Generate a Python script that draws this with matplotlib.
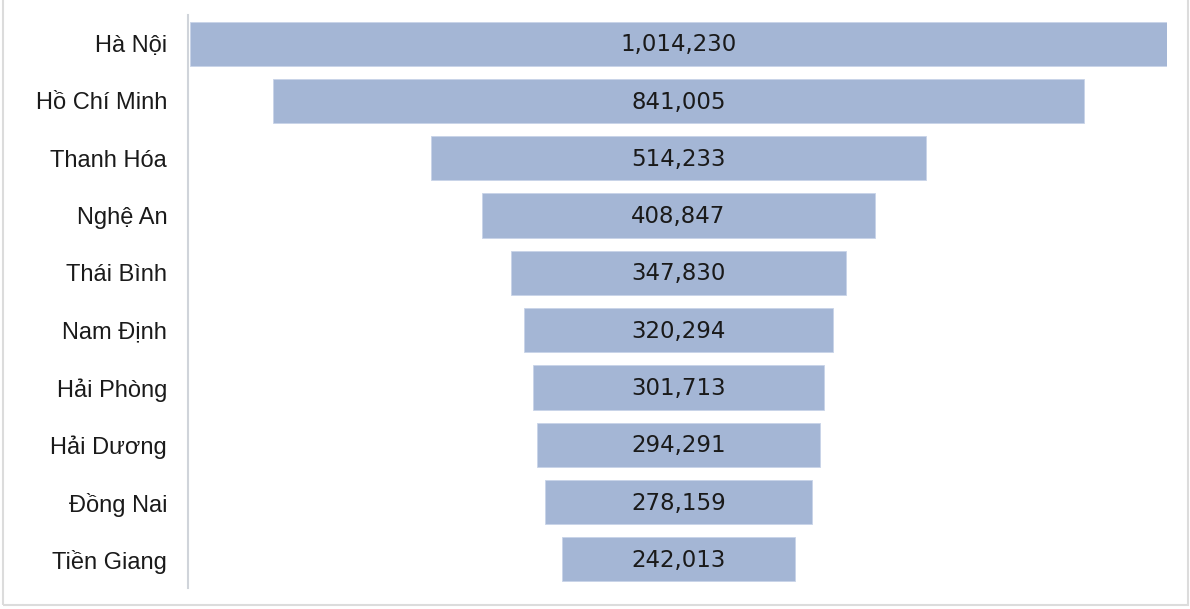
import matplotlib.pyplot as plt
from matplotlib.patches import Rectangle

provinces = ["Hà Nội", "Hồ Chí Minh", "Thanh Hóa", "Nghệ An", "Thái Bình",
             "Nam Định", "Hải Phòng", "Hải Dương", "Đồng Nai", "Tiền Giang"]
values = [1014230, 841005, 514233, 408847, 347830,
          320294, 301713, 294291, 278159, 242013]

bar_color = "#a4b6d5"

fig = plt.figure(figsize=(11.9, 6.09), dpi=100)
ax = fig.add_axes([188 / 1190, 1 - 588 / 609, (1167 - 188) / 1190, (588 - 15) / 609])

# funnel: each bar centred on zero
ypos = list(range(len(values)))
lefts = [-v / 2 for v in values]
ax.barh(ypos, values, left=lefts, height=0.77, color=bar_color,
        edgecolor="#c8d4e8", linewidth=0.6)

for y, v in zip(ypos, values):
    ax.text(0, y + 0.02, f"{v:,}", ha="center", va="center", fontsize=16.5,
            family=["DejaVu Sans"], color="#1a1a1a")

m = max(values)
pad = m * 2 / 977
ax.set_xlim(-m / 2 - pad, m / 2)
ax.set_ylim(len(values) - 0.5, -0.5)

ax.set_yticks(ypos)
ax.set_yticklabels(provinces, family=["Liberation Sans", "DejaVu Sans"],
                   fontsize=17, color="#1a1a1a")
ax.tick_params(axis="y", length=0, pad=15)
ax.set_xticks([])

for side in ["top", "right", "bottom"]:
    ax.spines[side].set_visible(False)
ax.spines["left"].set_color("#d0d4da")
ax.spines["left"].set_linewidth(1.5)

# light frame around the chart
fig.patches.append(Rectangle((3 / 1190, 1 - 605 / 609), (1188 - 3) / 1190, 1.0,
                             transform=fig.transFigure, fill=False,
                             edgecolor="#dcdcdc", linewidth=1.5))

fig.savefig("out.png", dpi=100)
